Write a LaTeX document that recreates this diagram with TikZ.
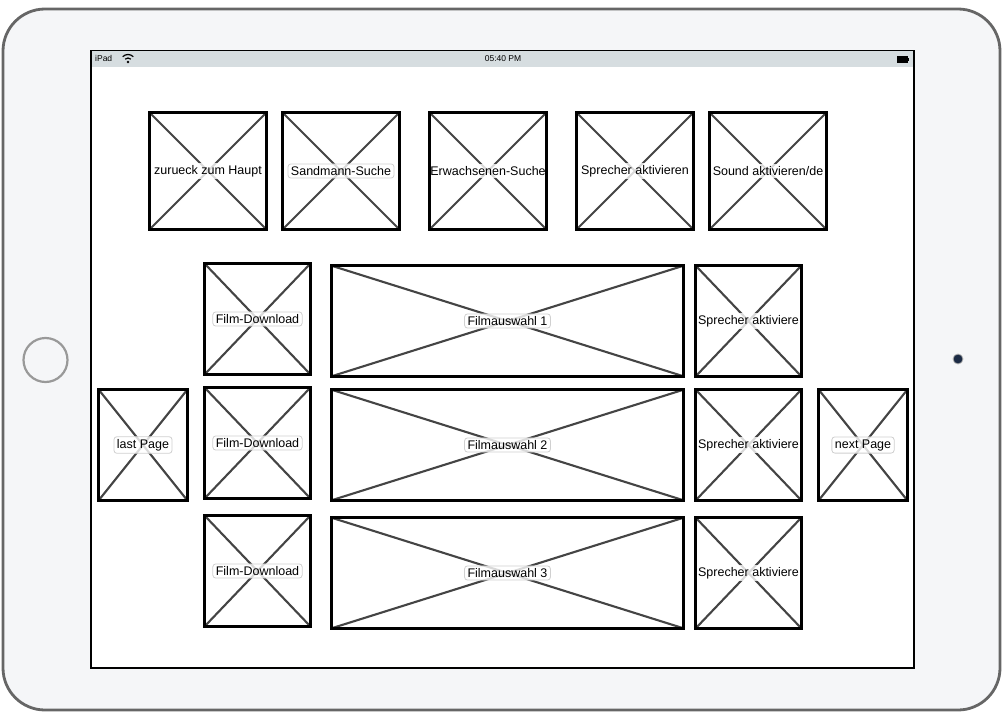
\documentclass[tikz,border=0pt]{standalone}
\usepackage{fontspec}
\setmainfont{Liberation Sans}
\definecolor{framefill}{HTML}{F5F6F8}
\definecolor{frameedge}{HTML}{666666}
\definecolor{statusbar}{HTML}{D6DDE0}
\definecolor{diagcol}{HTML}{444444}
\definecolor{lblborder}{HTML}{D0D0D0}
\definecolor{camcol}{HTML}{1B2A44}
\tikzset{
  phrect/.style={draw=black, line width=2.8pt, inner sep=0pt},
  phdiag/.style={draw=diagcol, line width=2.1pt},
  lblbox/.style={fill=white, fill opacity=0.8, text opacity=1, draw=lblborder, draw opacity=1, line width=0.8pt, rounded corners=3pt, inner xsep=3pt, inner ysep=2.5pt, font=\fontsize{12.5}{15}\selectfont},
  lblplain/.style={fill=white, fill opacity=0.8, text opacity=1, inner xsep=0pt, inner ysep=2.5pt, font=\fontsize{12.5}{15}\selectfont},
}
\newcommand\wfbox[7]{%
  \node[minimum width=#4pt, minimum height=#5pt, inner sep=0pt] (#1) at (#2,#3) {};
  \draw[phdiag] (#1.north west) -- (#1.south east);
  \draw[phdiag] (#1.north east) -- (#1.south west);
  \begin{scope}
    \clip (#1.north west) rectangle (#1.south east);
    \node[#6] (#1-lbl) at (#1.center) {#7};
  \end{scope}
  \draw[phrect] (#1.north west) rectangle (#1.south east);
}
\begin{document}
\begin{tikzpicture}[x=1pt,y=-1pt]
\useasboundingbox (0,0) rectangle (1004,720);
% device frame
\node[draw=frameedge, fill=framefill, line width=2.8pt, rounded corners=42pt, minimum width=997pt, minimum height=701pt, inner sep=0pt] (frame) at (501.5,359.5) {};
% screen
\node[draw=black, fill=white, line width=2pt, minimum width=823pt, minimum height=617pt, inner sep=0pt] (screen) at (502.5,359) {};
\fill[statusbar] (92,51) rectangle (913,67);
\node[font=\fontsize{8.5}{10}\selectfont, anchor=west, inner sep=0pt] (ipad) at (95,58.5) {iPad};
\coordinate (wifi) at (128,62);
\fill (wifi) circle (1.3pt);
\draw[line width=1.2pt] (wifi) ++(-45:4) arc[start angle=-45, end angle=-135, radius=4];
\draw[line width=1.2pt] (wifi) ++(-45:7.5) arc[start angle=-45, end angle=-135, radius=7.5];
\node[font=\fontsize{8.5}{10}\selectfont, inner sep=0pt] (clock) at (503,58.5) {05:40 PM};
\node[draw=black, fill=black, line width=0.8pt, minimum width=10pt, minimum height=6pt, inner sep=0pt] (battery) at (902,59) {};
\fill (battery.east) ++(0,-1.5) rectangle ++(1.8,3);
% home button and camera
\node[circle, draw=gray!80, line width=2.2pt, minimum size=44pt, inner sep=0pt] (home) at (45.5,360) {};
\node[circle, fill=camcol, draw=gray!60, line width=0.8pt, minimum size=10pt, inner sep=0pt] (camera) at (958,359) {};
% top row
\wfbox{t1}{208}{171}{116}{116}{lblplain, minimum width=116pt}{zurueck zum Haupt}
\wfbox{t2}{341}{171}{116}{116}{lblbox}{Sandmann-Suche}
\wfbox{t3}{488}{171}{116}{116}{lblplain, minimum width=116pt}{Erwachsenen-Suche}
\wfbox{t4}{635}{171}{116}{116}{lblplain, minimum width=116pt}{Sprecher aktivieren}
\wfbox{t5}{768}{171}{116}{116}{lblplain, minimum width=116pt}{Sound aktivieren/de}
% list rows
\wfbox{dl1}{257.5}{319}{105}{110}{lblbox}{Film-Download}
\wfbox{fa1}{507.5}{321}{351}{110}{lblbox}{Filmauswahl 1}
\wfbox{sp1}{748.5}{321}{105}{110}{lblplain, minimum width=105pt}{Sprecher aktiviere}
\wfbox{lp}{143}{445}{88}{110}{lblbox}{last Page}
\wfbox{dl2}{257.5}{443}{105}{110}{lblbox}{Film-Download}
\wfbox{fa2}{507.5}{445}{351}{110}{lblbox}{Filmauswahl 2}
\wfbox{sp2}{748.5}{445}{105}{110}{lblplain, minimum width=105pt}{Sprecher aktiviere}
\wfbox{np}{863}{445}{88}{110}{lblbox}{next Page}
\wfbox{dl3}{257.5}{571}{105}{110}{lblbox}{Film-Download}
\wfbox{fa3}{507.5}{573}{351}{110}{lblbox}{Filmauswahl 3}
\wfbox{sp3}{748.5}{573}{105}{110}{lblplain, minimum width=105pt}{Sprecher aktiviere}
\end{tikzpicture}
\end{document}
